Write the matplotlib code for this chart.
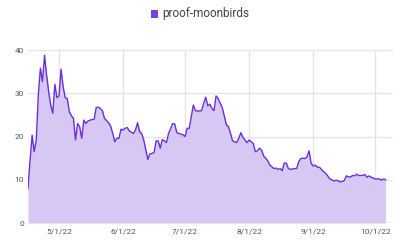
import matplotlib
matplotlib.use("Agg")
import matplotlib.pyplot as plt
import matplotlib.dates as mdates
from matplotlib.patches import Rectangle
import pandas as pd

start_date = "2022-04-16"
series_name = "proof-moonbirds"
values = [
    8.0, 14.5, 20.3, 16.5, 19.2, 29.6, 35.8, 32.7, 38.8, 34.2, 30.4, 27.3, 25.4, 32.1, 29.0,
    29.4, 35.6, 31.5, 29.0, 28.8, 25.7, 24.8, 24.2, 19.2, 23.0, 22.3, 19.6, 23.8, 23.0, 23.6,
    23.8, 23.9, 24.0, 26.7, 26.8, 26.5, 26.0, 24.2, 23.7, 23.2, 22.4, 20.7, 18.8, 19.6, 19.6,
    21.7, 21.5, 21.9, 22.1, 21.3, 21.0, 20.7, 21.5, 23.2, 21.1, 20.7, 19.2, 17.0, 14.7, 16.0,
    16.1, 16.3, 19.0, 19.0, 17.3, 19.3, 19.0, 18.6, 20.7, 21.8, 23.0, 22.9, 20.9, 20.7, 20.6,
    20.4, 20.0, 21.9, 21.9, 24.6, 27.3, 26.0, 25.9, 25.9, 26.0, 27.7, 29.1, 27.1, 27.5, 26.5,
    26.0, 29.4, 28.8, 27.7, 26.7, 24.7, 22.7, 22.3, 20.7, 19.0, 18.8, 18.6, 19.6, 20.9, 19.8,
    19.2, 18.6, 19.2, 18.8, 18.4, 16.5, 16.7, 17.3, 16.9, 15.5, 15.0, 14.4, 13.4, 13.0, 12.6,
    12.7, 12.4, 12.6, 12.1, 13.9, 13.8, 12.6, 12.4, 12.5, 12.6, 12.6, 14.2, 14.9, 15.0, 14.9,
    15.3, 16.7, 13.8, 13.2, 13.4, 12.9, 12.9, 12.4, 11.9, 11.5, 10.9, 10.2, 10.0, 9.7, 9.9,
    9.8, 9.5, 9.6, 9.8, 10.9, 10.7, 10.6, 11.0, 10.9, 11.3, 11.0, 11.0, 11.0, 11.2, 10.6,
    10.9, 10.6, 10.4, 10.2, 10.2, 10.2, 9.9, 10.2, 10.0,
]
dates = pd.date_range(start_date, periods=len(values), freq="D")
x_ticks = ["2022-05-01", "2022-06-01", "2022-07-01", "2022-08-01", "2022-09-01", "2022-10-01"]
x_tick_labels = ["5/1/22", "6/1/22", "7/1/22", "8/1/22", "9/1/22", "10/1/22"]
y_ticks = [0, 10, 20, 30, 40]

line_color = "#6a2fdb"
fill_color = "#d7c8f3"
grid_color = "#e3e3e3"
text_color = "#555555"

plt.rcParams["font.family"] = ["Roboto", "DejaVu Sans"]
fig = plt.figure(figsize=(4.0, 2.42), dpi=100)
ax = fig.add_axes([0.07, 0.0785, 0.9125, 0.7145])

ax.fill_between(dates, values, 0, color=fill_color, linewidth=0, zorder=2)
ax.plot(dates, values, color=line_color, linewidth=1.0, zorder=3)

ax.set_ylim(0, 40)
ax.set_xlim(pd.Timestamp(start_date), pd.Timestamp(start_date) + pd.Timedelta(days=176.6))
ax.set_yticks(y_ticks)
ax.set_xticks(pd.to_datetime(x_ticks))
ax.set_xticklabels(x_tick_labels)
ax.grid(True, color=grid_color, linewidth=0.9, zorder=1)
ax.set_axisbelow(True)
for s in ax.spines.values():
    s.set_visible(False)
ax.axhline(0, color="#c8c8c8", linewidth=1.0, zorder=4)
ax.tick_params(axis="both", length=0, labelsize=6, colors=text_color, pad=4)
ax.tick_params(axis="y", pad=3)

# legend
fig.patches.append(Rectangle((151 / 400, 1 - 17.5 / 242), 7 / 400, 7 / 242,
                             transform=fig.transFigure, facecolor="#7b41d9", edgecolor="none"))
fig.text(162 / 400, 1 - 14 / 242, series_name, fontsize=8.5, color="#444444",
         va="center", ha="left")

fig.savefig("out.png", dpi=100)
